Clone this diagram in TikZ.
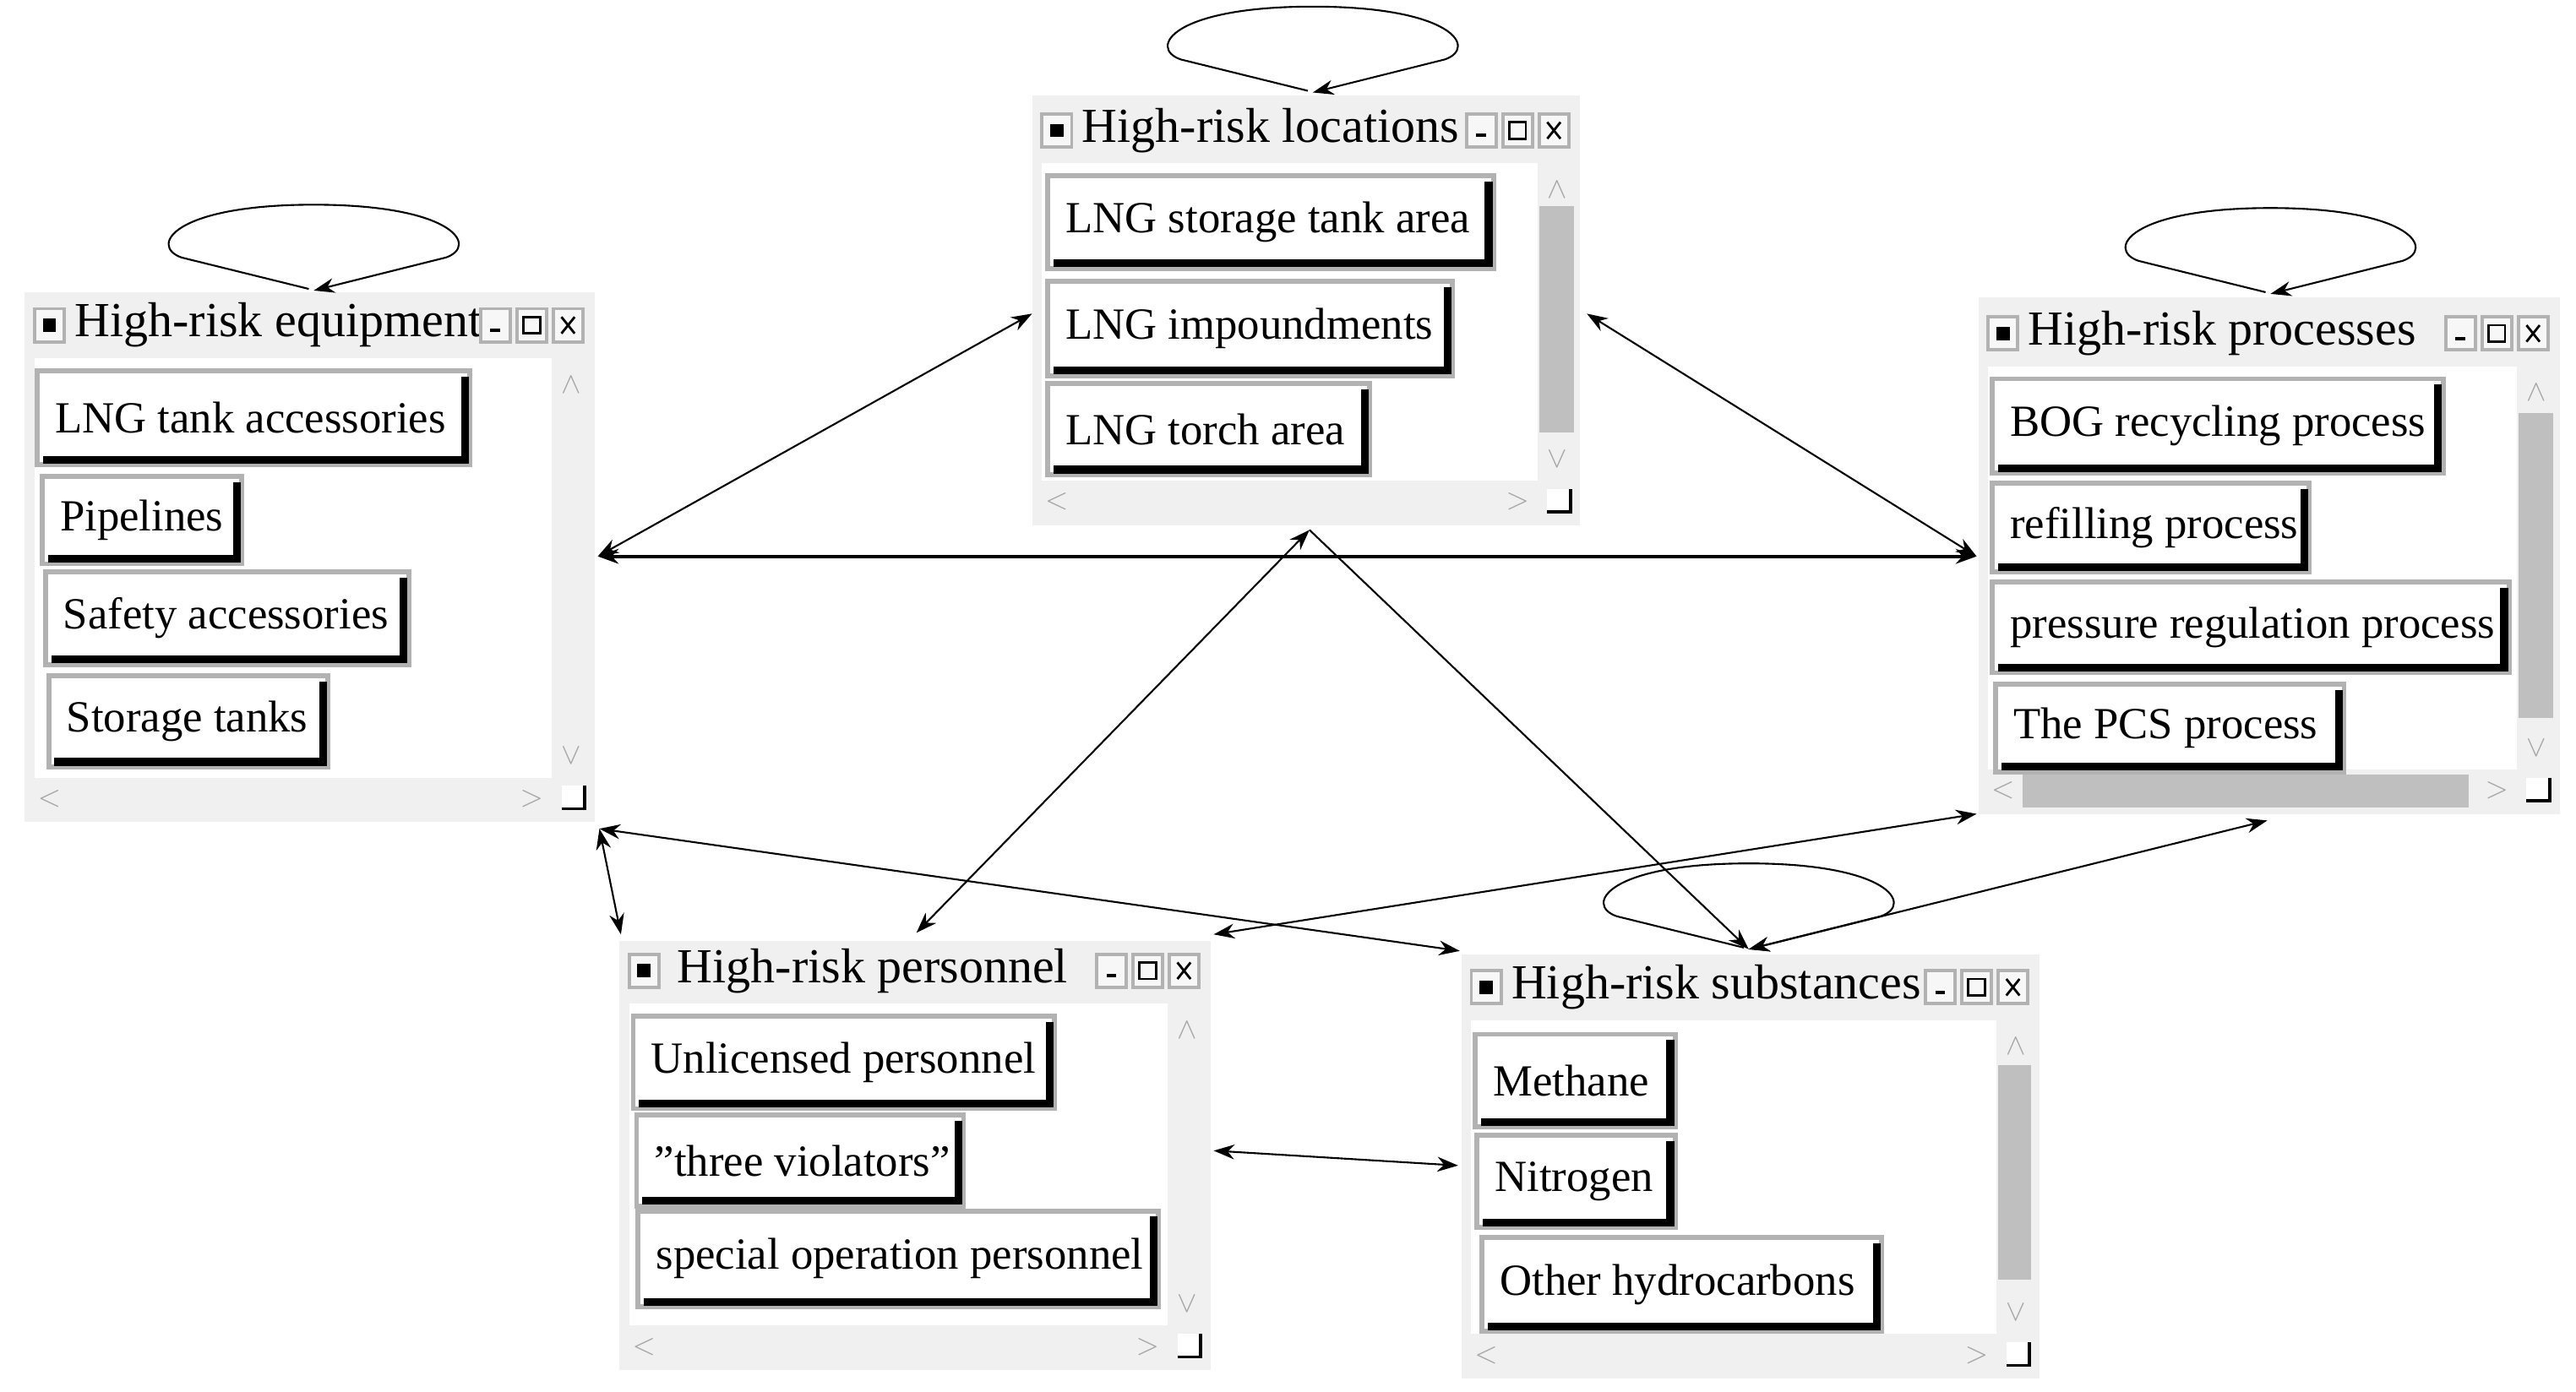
\documentclass[tikz,border=0pt]{standalone}
\usepackage{fontspec}
\setmainfont{Liberation Serif}
\usetikzlibrary{arrows.meta}
\newcommand\itemfont{\fontsize{15}{18}\selectfont}
\newcommand\titlefont{\fontsize{16.5}{20}\selectfont}
\tikzset{
  conn/.style={line width=0.6pt, {Stealth[length=7pt,width=5pt]}-{Stealth[length=7pt,width=5pt]}},
  one/.style={line width=0.6pt, -{Stealth[length=7pt,width=5pt]}},
  glyph/.style={text=black!35, font=\fontsize{10}{10}\selectfont\sffamily, inner sep=0pt},
}
% button: name x1 y1 x2 y2 text
\newcommand\mybtn[6]{%
  \fill[black!30] (#2-3,#3-3) rectangle (#4+3,#5+3);
  \fill[white] (#2,#3) rectangle (#4,#5);
  \draw[line width=2.6pt] (#2+2,#5-1.5) -- (#4-1.5,#5-1.5) -- (#4-1.5,#3+2);
  \node[anchor=west, font=\itemfont, inner sep=0pt] (#1) at (#2+9,{(#3+#5)/2}) {#6};}
% window: name x1 y1 x2 y2 titleY title
\newcommand\mywin[7]{%
  \fill[black!6] (#2,#3) rectangle (#4,#5);
  \fill[white] (#2+6,#6+20) rectangle (#4-26,#5-27);
  \fill[black!30] (#2+5,#6-11) rectangle (#2+25,#6+11);
  \fill[black!3] (#2+7,#6-9) rectangle (#2+23,#6+9);
  \fill[black] (#2+11,#6-4) rectangle (#2+19,#6+4);
  \node[anchor=west, font=\titlefont, inner sep=0pt] (#1) at (#2+30,#6) {#7};
  \foreach \k in {0,1,2}{
    \fill[black!30] (#4-70+\k*22,#6-11) rectangle (#4-50+\k*22,#6+11);
    \fill[black!3] (#4-68+\k*22,#6-9) rectangle (#4-52+\k*22,#6+9);}
  \draw[line width=1.2pt] (#4-63,#6+3) -- (#4-57,#6+3);
  \draw[line width=0.8pt] (#4-43,#6-5) rectangle (#4-33,#6+5);
  \draw[line width=0.8pt] (#4-20,#6-5) -- (#4-12,#6+5) (#4-20,#6+5) -- (#4-12,#6-5);
  \node[glyph] at (#4-14,#6+36) {$\wedge$};
  \node[glyph] at (#4-14,#5-40) {$\vee$};
  \node[glyph] at (#2+15,#5-14) {$<$};
  \node[glyph] at (#4-38,#5-14) {$>$};
  \fill[white] (#4-20,#5-22) rectangle (#4-6,#5-8);
  \draw[line width=1pt] (#4-20,#5-8) -- (#4-6,#5-8) -- (#4-6,#5-22);}
\newcommand\myloop[1]{%
  \draw[one] ([shift={(-3,-1)}]#1) -- ([shift={(-80,-20)}]#1) .. controls ([shift={(-100,-27)}]#1) and ([shift={(-85,-52)}]#1) .. ([shift={(0,-52)}]#1)
    .. controls ([shift={(85,-52)}]#1) and ([shift={(100,-27)}]#1) .. ([shift={(80,-20)}]#1) -- (#1);}
\begin{document}
\begin{tikzpicture}[x=0.01955cm,y=-0.01955cm]
\useasboundingbox[fill=white] (0,0) rectangle (1560,843);
% windows
\mywin{eq}{15}{177}{360}{498}{197}{High-risk equipment}
\mywin{lo}{625}{58}{957}{318}{79}{High-risk locations}
\mywin{pr}{1198}{180}{1550}{493}{202}{High-risk processes}
\mywin{pe}{375}{570}{733}{830}{588}{\,High-risk personnel}
\mywin{su}{885}{578}{1235}{835}{598}{High-risk substances}
% scroll thumbs
\fill[black!25] (932,125) rectangle (953,262);
\fill[black!25] (1525,250) rectangle (1546,435);
\fill[black!25] (1225,469) rectangle (1495,489);
\fill[black!25] (1210,645) rectangle (1230,775);
% buttons
\mybtn{e1}{24}{226}{283}{280}{LNG tank accessories}
\mybtn{e2}{27}{290}{145}{340}{Pipelines}
\mybtn{e3}{29}{348}{246}{401}{Safety accessories}
\mybtn{e4}{31}{411}{197}{463}{Storage tanks}
\mybtn{l1}{636}{108}{903}{161}{LNG storage tank area}
\mybtn{l2}{636}{172}{878}{226}{LNG impoundments}
\mybtn{l3}{636}{234}{828}{286}{LNG torch area}
\mybtn{p1}{1208}{231}{1478}{285}{BOG recycling process}
\mybtn{p2}{1208}{294}{1397}{345}{refilling process}
\mybtn{p3}{1208}{354}{1518}{406}{pressure regulation process}
\mybtn{p4}{1210}{416}{1418}{466}{The PCS process}
\mybtn{pe1}{385}{617}{637}{670}{Unlicensed personnel}
\mybtn{pe2}{387}{677}{582}{729}{"three violators"}
\mybtn{pe3}{388}{735}{700}{790}{special operation personnel}
\mybtn{s1}{895}{628}{1013}{681}{Methane}
\mybtn{s2}{896}{689}{1013}{742}{Nitrogen}
\mybtn{s3}{899}{751}{1138}{805}{Other hydrocarbons}
% anchor coordinates
\coordinate (eqR) at (362,337);
\coordinate (eqB) at (363,502);
\coordinate (loL) at (625,190);
\coordinate (loR) at (961,190);
\coordinate (loB) at (793,321);
\coordinate (prL) at (1197,337);
\coordinate (prLB) at (1197,493);
\coordinate (prB) at (1373,497);
\coordinate (peT) at (555,565);
\coordinate (peTL) at (376,566);
\coordinate (peTR) at (735,566);
\coordinate (peR) at (735,697);
\coordinate (suT) at (1059,575);
\coordinate (suTL) at (884,576);
\coordinate (suL) at (883,706);
\coordinate (eqT) at (190,176);
\coordinate (loT) at (795,56);
\coordinate (prT) at (1375,178);
% connectors
\draw[conn] (eqR) -- (loL);
\draw[conn, line width=1.1pt] (eqR) -- (prL);
\draw[conn] (loR) -- (prL);
\draw[conn] (loB) -- (peT);
\draw[one] (loB) -- (suT);
\draw[conn] (eqB) -- (peTL);
\draw[conn] (eqB) -- (suTL);
\draw[conn] (peTR) -- (prLB);
\draw[conn] (suT) -- (prB);
\draw[conn] (peR) -- (suL);
% self loops
\myloop{eqT}
\myloop{loT}
\myloop{prT}
\myloop{suT}
\end{tikzpicture}
\end{document}
